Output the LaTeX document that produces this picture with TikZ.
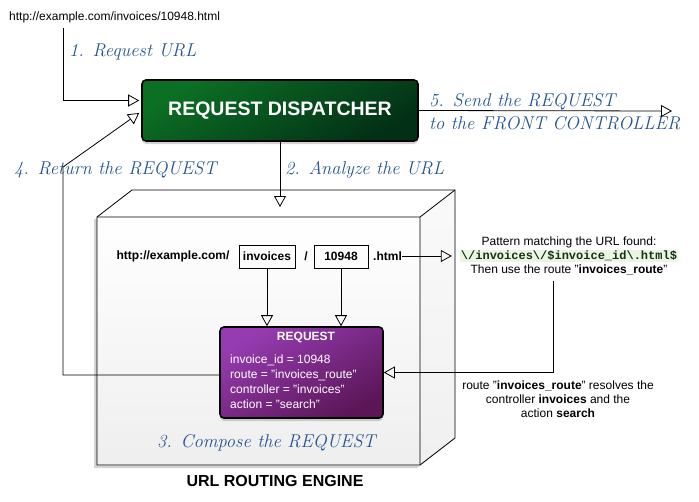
\documentclass[tikz,border=0pt]{standalone}
\usepackage{fontspec}
\setsansfont{Liberation Sans}
\setmonofont{Liberation Mono}
\usetikzlibrary{arrows.meta,shadows,positioning,calc}
\definecolor{bleuEtape}{RGB}{38,84,148}
\definecolor{vertHaut}{RGB}{12,112,36}
\definecolor{vertBas}{RGB}{2,48,22}
\definecolor{violetHaut}{RGB}{150,60,178}
\definecolor{violetBas}{RGB}{92,22,88}
\definecolor{vertMotif}{RGB}{234,246,226}
\definecolor{encreMotif}{RGB}{20,50,20}
\newcommand{\Etape}[3]{\node[etape] (#1) at #2 {#3}}
\newcommand{\Texte}[2]{\fontsize{#1}{#2}\selectfont}

\begin{document}
\begin{tikzpicture}[x=1pt,y=-1pt,
	fleche/.style={line width=0.8pt,-{Triangle[open,length=11pt,width=12pt]}},
	etape/.style={text=bleuEtape,font=\rmfamily\itshape\Texte{18.5}{23},anchor=west,inner sep=0pt},
	texte/.style={font=\sffamily\Texte{12}{14},inner sep=0pt},
	champ/.style={draw,line width=0.7pt,font=\sffamily\bfseries\Texte{12}{14},minimum height=23pt,inner xsep=4pt},
	boite/.style={rounded corners=4pt,draw=black,line width=1.6pt,text=white,
		drop shadow={shadow xshift=0pt,shadow yshift=-3pt,opacity=0.35}}]
	\useasboundingbox (0,0) rectangle (699,501);
	
	%Sommets du cube
	\coordinate (F1) at (97,217);
	\coordinate (F2) at (420,217);
	\coordinate (F3) at (420,465);
	\coordinate (F4) at (97,465);
	\coordinate (B1) at (132,190);
	\coordinate (B2) at (455,190);
	\coordinate (B3) at (455,438);
	
	%Cube
	\fill[gray!8,drop shadow={shadow xshift=-3pt,shadow yshift=-3pt,opacity=0.35}]
		(F4) -- (F1) -- (B1) -- (B2) -- (B3) -- (F3) -- cycle;
	\fill[white] (F1) -- (B1) -- (B2) -- (F2) -- cycle;
	\shade[top color=gray!4,bottom color=gray!12] (F2) -- (B2) -- (B3) -- (F3) -- cycle;
	\shade[top color=white,bottom color=gray!13] (F1) rectangle (F3);
	\draw[line width=0.8pt] (F4) -- (F1) -- (B1) -- (B2) -- (B3) -- (F3) -- cycle;
	\draw[line width=0.8pt] (F1) -- (F2) -- (B2) (F2) -- (F3);
	\node[font=\sffamily\bfseries\Texte{16}{18},inner sep=0pt] (moteur) at (275,481) {URL ROUTING ENGINE};
	
	%Noeuds
	\node[texte,anchor=west] (url) at (9,17) {http://example.com/invoices/10948.html};
	\node[boite,minimum width=276pt,minimum height=61pt,
		top color=vertHaut,bottom color=vertBas,shading angle=30,
		font=\sffamily\bfseries\Texte{19.5}{22}] (dispatcher) at (280,110.5) {REQUEST DISPATCHER};
	\node[boite,minimum width=163pt,minimum height=91pt,
		top color=violetHaut,bottom color=violetBas,shading angle=30] (requete) at (301.5,372.5) {};
	\node[texte,font=\sffamily\bfseries\Texte{12}{14},text=white] (titre) at (306,337) {REQUEST};
	\node[texte,text=white,anchor=north west,align=left,font=\sffamily\Texte{12}{15}]
		(champs) at (230,355) {invoice\_id = 10948\\route = "invoices\_route"\\controller = "invoices"\\action = "search"};
	
	\node[texte,font=\sffamily\bfseries\Texte{12}{14}] (domaine) at (173,256) {http://example.com/};
	\node[champ,minimum width=56pt] (invoices) at (267,256.5) {invoices};
	\node[texte,font=\sffamily\bfseries\Texte{12}{14}] (barre) at (306,256) {/};
	\node[champ,minimum width=54pt] (ident) at (341,256.5) {10948};
	\node[texte,font=\sffamily\bfseries\Texte{12}{14},anchor=west] (html) at (373,256) {.html};
	
	\node[texte,align=center,font=\sffamily\Texte{12}{14},inner xsep=8pt] (motif) at (569,256)
		{Pattern matching the URL found:\\
		{\setlength{\fboxsep}{1pt}\colorbox{vertMotif}{\textcolor{encreMotif}{\ttfamily\bfseries\textbackslash/invoices\textbackslash/\$invoice\_id\textbackslash.html\$}}}\\
		Then use the route "\textbf{invoices\_route}"};
	\node[texte,align=center,font=\sffamily\Texte{12}{14}] (resolution) at (558,399)
		{route "\textbf{invoices\_route}" resolves the\\controller \textbf{invoices} and the\\action \textbf{search}};
	
	%Etapes
	\Etape{etapeA}{(69,52)}{1. Request URL};
	\Etape{etapeB}{(285,170)}{2. Analyze the URL};
	\Etape{etapeC}{(157,443)}{3. Compose the REQUEST};
	\Etape{etapeD}{(14,170)}{4. Return the REQUEST};
	\node[etape,align=left] (etapeE) at (429,111.5)
		{5. Send the REQUEST\\to the FRONT CONTROLLER};
	
	%Connecteurs
	\coordinate (entree) at (280,207);
	\coordinate (sortie) at (672,111);
	\coordinate (coin) at (63,167);
	\draw[fleche] ($(url.south west)+(54,5)$) |- ($(dispatcher.west)+(-2,-10)$);
	\draw[fleche] (dispatcher.south) -- (entree);
	\draw[fleche] (dispatcher.east) -- (sortie);
	\draw[fleche] ($(requete.west)+(0,2.5)$) -| (coin) -- ($(dispatcher.west)+(-2,2.5)$);
	\draw[fleche] (invoices.south) -- (invoices.south |- requete.north);
	\draw[fleche] (ident.south) -- (ident.south |- requete.north);
	\draw[fleche] (html.east) -- (motif.west);
	\draw[fleche] ($(motif.south)+(-16,6)$) |- (requete.east);
	
\end{tikzpicture}
\end{document}
